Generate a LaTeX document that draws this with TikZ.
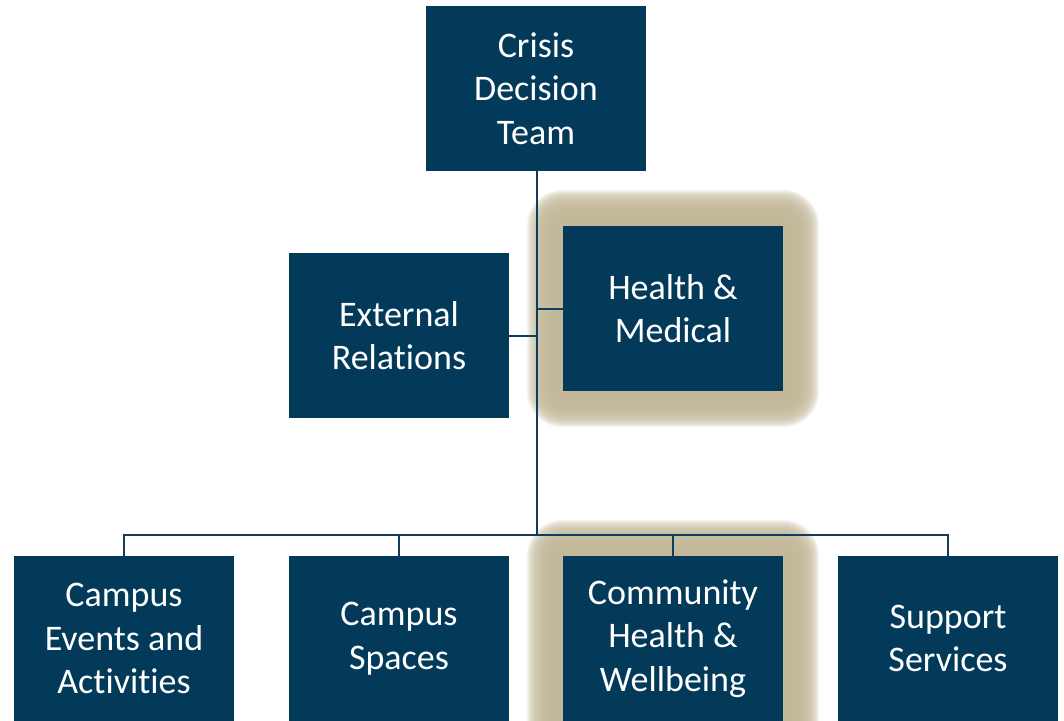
\documentclass[tikz,border=0pt]{standalone}
\usepackage{fontspec}
\setmainfont{Carlito}[Ligatures={NoCommon}]
\usetikzlibrary{backgrounds}
\definecolor{navy}{HTML}{033A5A}
\definecolor{linenavy}{HTML}{0E3D5E}
\definecolor{glowtan}{HTML}{C2B899}
\begin{document}
\begin{tikzpicture}[x=1pt,y=-1pt,
  box/.style={rectangle, fill=navy, text=white, minimum width=220pt, minimum height=165pt,
    inner sep=0pt, align=center, font=\fontsize{36}{43.5}\selectfont},
  link/.style={draw=linenavy, line width=2pt}]
\useasboundingbox (0,0) rectangle (1064,720);
\clip (0,0) rectangle (1064,720);
\node[box] (cdt) at (536,88.5) {Crisis\\Decision\\Team};
\node[box] (ext) at (399,335.5) {External\\Relations};
\node[box] (hm)  at (673,308.5) {Health \&\\Medical};
\node[box] (ce)  at (124,638.5) {Campus\\Events and\\Activities};
\node[box] (cs)  at (399,638.5) {Campus\\Spaces};
\node[box] (ch)  at (673,638.5) {Community\\Health \&\\Wellbeing};
\node[box] (ss)  at (948,638.5) {Support\\Services};
\coordinate (bar) at (537,535);
\begin{scope}[on background layer]
  \foreach \n in {hm,ch}{
    \foreach \r in {36,35,...,8}{
      \fill[glowtan, opacity=0.14, rounded corners=\r pt]
        ([shift={(-\r,\r)}]\n.south west) rectangle ([shift={(\r,-\r)}]\n.north east);
    }
  }
  \draw[link] (cdt.south -| bar) -- (bar);
  \draw[link] (ext.east) -- (ext.east -| bar);
  \draw[link] (hm.west) -- (hm.west -| bar);
  \draw[link] (ce.north) -- (ce.north |- bar) -- (ss.north |- bar) -- (ss.north);
  \draw[link] (cs.north) -- (cs.north |- bar);
  \draw[link] (ch.north) -- (ch.north |- bar);
\end{scope}
\end{tikzpicture}
\end{document}
